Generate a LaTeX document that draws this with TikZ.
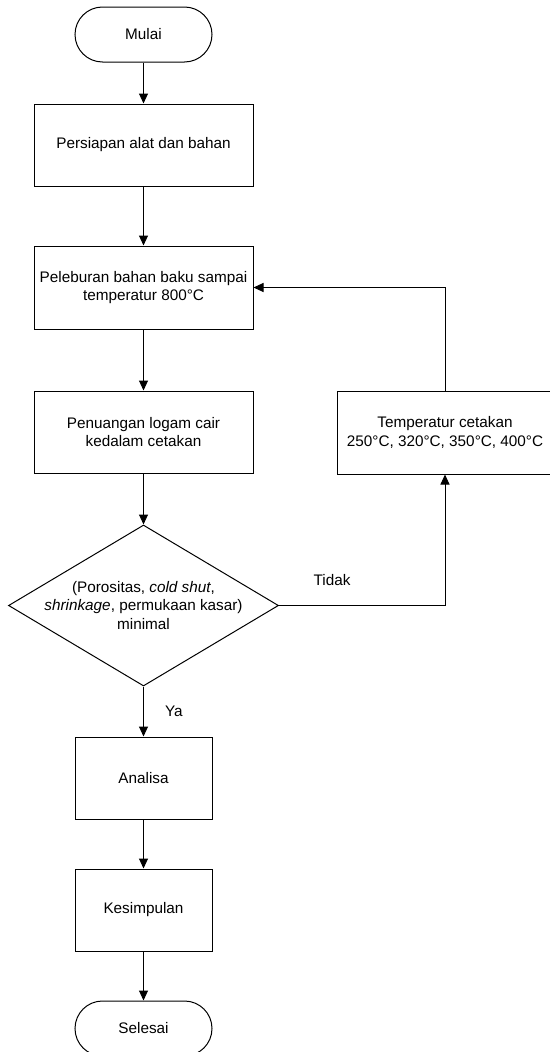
\documentclass[tikz,border=0pt]{standalone}
\usepackage{fontspec}
\setmainfont{Liberation Sans}
\usetikzlibrary{arrows.meta,shapes.geometric}
\begin{document}
\begin{tikzpicture}[x=1pt,y=-1pt,
  every node/.style={font=\fontsize{15.3}{18.5}\selectfont},
  box/.style={draw, line width=1pt, rectangle, align=center, inner sep=0pt},
  term/.style={draw, line width=1pt, rectangle, rounded corners=27.5pt, minimum width=137pt, minimum height=55pt, inner sep=0pt},
  dec/.style={draw, line width=1pt, diamond, minimum width=270pt, minimum height=161pt, inner sep=0pt},
  flow/.style={line width=1pt, -{Triangle[length=10pt,width=9pt]}},
  lbl/.style={inner sep=0pt}]
\useasboundingbox (0,0) rectangle (549,1052);

\node[term] (mulai) at (143.5,34.5) {Mulai};
\node[box, minimum width=219pt, minimum height=82pt] (siap) at (143.5,145) {Persiapan alat dan bahan};
\node[box, minimum width=219pt, minimum height=83pt] (lebur) at (143.5,287.5) {Peleburan bahan baku sampai\\temperatur 800°C};
\node[box, minimum width=219pt, minimum height=82pt] (tuang) at (143.5,432) {Penuangan logam cair\\kedalam cetakan};
\node[box, minimum width=216pt, minimum height=83pt] (temp) at (445,432.5) {Temperatur cetakan\\250°C, 320°C, 350°C, 400°C};
\node[dec, label={[align=center, inner sep=0pt]center:{(Porositas, \textit{cold shut},\\\textit{shrinkage}, permukaan kasar)\\minimal}}] (cek) at (143.5,605.5) {};
\node[box, minimum width=137pt, minimum height=82pt] (analisa) at (143.5,778) {Analisa};
\node[box, minimum width=137pt, minimum height=82pt] (simpul) at (143.5,910) {Kesimpulan};
\node[term] (selesai) at (143.5,1028.5) {Selesai};

\draw[flow] (mulai) -- (siap);
\draw[flow] (siap) -- (lebur);
\draw[flow] (lebur) -- (tuang);
\draw[flow] (tuang) -- (cek);
\draw[flow] (cek) -- node[lbl, pos=0.5, right=21pt] {Ya} (analisa);
\draw[flow] (analisa) -- (simpul);
\draw[flow] (simpul) -- (selesai);
\draw[flow] (cek.east) -| node[lbl, pos=0.16, above=19pt] {Tidak} (temp.south);
\draw[flow] (temp.north) |- (lebur.east);
\end{tikzpicture}
\end{document}
